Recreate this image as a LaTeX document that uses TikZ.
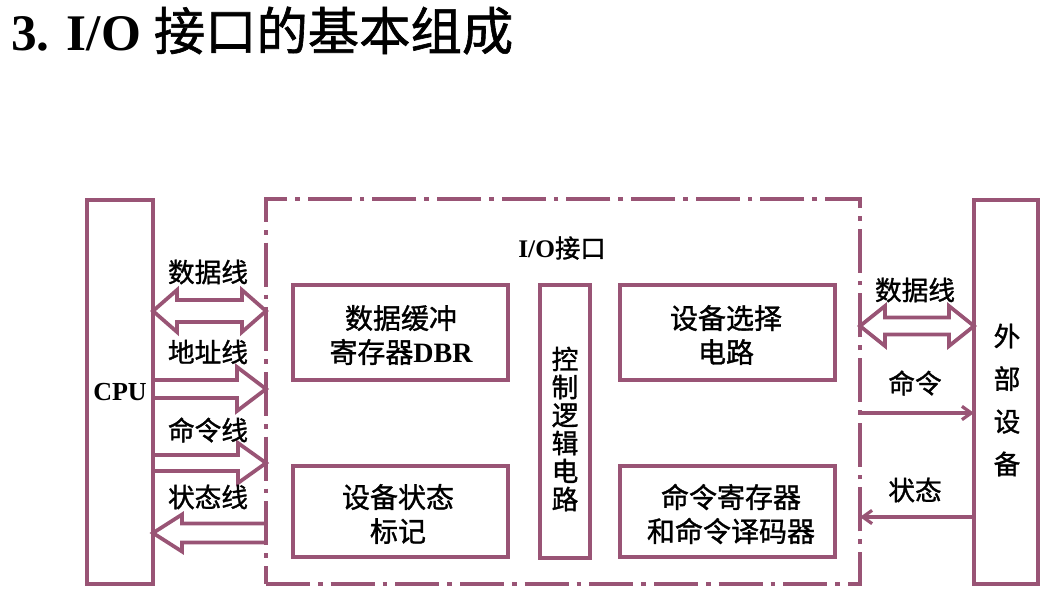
\documentclass[tikz,border=0pt]{standalone}
\usepackage{fontspec}
\setmainfont{Liberation Serif}
\newfontfamily\cjk[FakeBold=1.2]{Noto Sans CJK SC}
\usetikzlibrary{calc,arrows.meta}
\definecolor{pc}{RGB}{153,84,117}
\tikzset{
  box/.style={draw=pc, line width=3pt, fill=white, inner sep=0pt, outer sep=0pt},
  dashbox/.style={draw=pc, line width=3pt, inner sep=0pt, outer sep=0pt,
     dash pattern=on 33pt off 6pt on 3.5pt off 6pt},
  hollow/.style={draw=pc, line width=2.8pt, fill=white, line join=miter},
  sig/.style={draw=pc, line width=2.4pt, -{Straight Barb[length=7pt,width=10pt]}},
  lbl/.style={font=\fontsize{20}{24}\selectfont\cjk, inner sep=0pt},
  boxtxt/.style={font=\fontsize{21}{25.5}\selectfont\cjk, align=center, inner sep=0pt},
}
\newcommand\harrowR[5]{%
  \draw[hollow] ($(#1)+(0,-#3)$) -- ($(#2)+(-#5,-#3)$) -- ($(#2)+(-#5,-#4)$) -- (#2)
   -- ($(#2)+(-#5,#4)$) -- ($(#2)+(-#5,#3)$) -- ($(#1)+(0,#3)$) -- cycle;}
\newcommand\harrowL[5]{%
  \draw[hollow] ($(#2)+(0,-#3)$) -- ($(#1)+(#5,-#3)$) -- ($(#1)+(#5,-#4)$) -- (#1)
   -- ($(#1)+(#5,#4)$) -- ($(#1)+(#5,#3)$) -- ($(#2)+(0,#3)$) -- cycle;}
\newcommand\harrowD[5]{%
  \draw[hollow] (#1) -- ($(#1)+(#5,-#4)$) -- ($(#1)+(#5,-#3)$) -- ($(#2)+(-#5,-#3)$)
   -- ($(#2)+(-#5,-#4)$) -- (#2) -- ($(#2)+(-#5,#4)$) -- ($(#2)+(-#5,#3)$)
   -- ($(#1)+(#5,#3)$) -- ($(#1)+(#5,#4)$) -- cycle;}
\begin{document}
\begin{tikzpicture}[x=0.75pt, y=-0.75pt]
\useasboundingbox[fill=white] (0,0) rectangle (1049,603);
% title
\node[anchor=base west, inner sep=0pt, font=\fontsize{38.5}{40}\selectfont] (title) at (11,50)
  {\textbf{3. I/O} {\cjk 接口的基本组成}};
% main boxes
\node[dashbox, minimum width=594*0.75pt, minimum height=385*0.75pt] (io) at (563,391.5) {};
\node[box, minimum width=66*0.75pt, minimum height=384*0.75pt] (cpu) at (120,392)
  {\fontsize{19.5}{22}\selectfont\textbf{CPU}};
\node[box, minimum width=64*0.75pt, minimum height=384*0.75pt] (ext) at (1006,392) {};
\node[font=\fontsize{20}{32}\selectfont\cjk, align=center, inner sep=0pt] (extt) at (1007,400)
  {外\\部\\设\\备};
\node[inner sep=0pt, font=\fontsize{19}{22}\selectfont] (iot) at (562,248)
  {\textbf{I/O}{\cjk 接口}};
% inner boxes
\node[box, minimum width=215*0.75pt, minimum height=95*0.75pt] (dbr) at (400.5,332.5) {};
\node[boxtxt] at (401,335) {数据缓冲\\寄存器{\rmfamily\bfseries DBR}};
\node[box, minimum width=50*0.75pt, minimum height=273*0.75pt] (ctl) at (565,421.5) {};
\node[font=\fontsize{20}{21}\selectfont\cjk, align=center, inner sep=0pt] (ctlt) at (565,429)
  {控\\制\\逻\\辑\\电\\路};
\node[box, minimum width=215*0.75pt, minimum height=95*0.75pt] (sel) at (727.5,332.5) {};
\node[boxtxt] at (726,335) {设备选择\\电路};
\node[box, minimum width=215*0.75pt, minimum height=91*0.75pt] (stat) at (400.5,511.5) {};
\node[boxtxt] at (398,514) {设备状态\\标记};
\node[box, minimum width=215*0.75pt, minimum height=91*0.75pt] (cmd) at (727.5,511.5) {};
\node[boxtxt] at (731,514) {命令寄存器\\和命令译码器};
% left bus arrows
\coordinate (d1a) at (cpu.east |- 0,311);
\coordinate (d1b) at (io.west |- 0,311);
\coordinate (a1a) at (cpu.east |- 0,389);
\coordinate (a1b) at (io.west |- 0,389);
\coordinate (c1a) at (cpu.east |- 0,463);
\coordinate (c1b) at (io.west |- 0,463);
\coordinate (s1a) at (cpu.east |- 0,533);
\coordinate (s1b) at (io.west |- 0,533);
\harrowD{d1a}{d1b}{11}{21}{24}
\harrowR{a1a}{a1b}{9}{22}{29}
\harrowR{c1a}{c1b}{8}{20}{28}
\harrowL{s1a}{s1b}{9.5}{18.5}{29}
\node[lbl] (l1) at (208,272) {数据线};
\node[lbl] (l2) at (208,352) {地址线};
\node[lbl] (l3) at (208,430) {命令线};
\node[lbl] (l4) at (208,497) {状态线};
% right side
\coordinate (d2a) at (io.east |- 0,326);
\coordinate (d2b) at (ext.west |- 0,326);
\harrowD{d2a}{d2b}{8.5}{20}{25}
\coordinate (m2a) at (io.east |- 0,413);
\coordinate (m2b) at (ext.west |- 0,413);
\coordinate (t2a) at (io.east |- 0,517);
\coordinate (t2b) at (ext.west |- 0,517);
\draw[sig] (m2a) -- (m2b);
\draw[sig] (t2b) -- (t2a);
\node[lbl] (r1) at (915,290) {数据线};
\node[lbl] (r2) at (915,383) {命令};
\node[lbl] (r3) at (915,490) {状态};
\end{tikzpicture}
\end{document}
